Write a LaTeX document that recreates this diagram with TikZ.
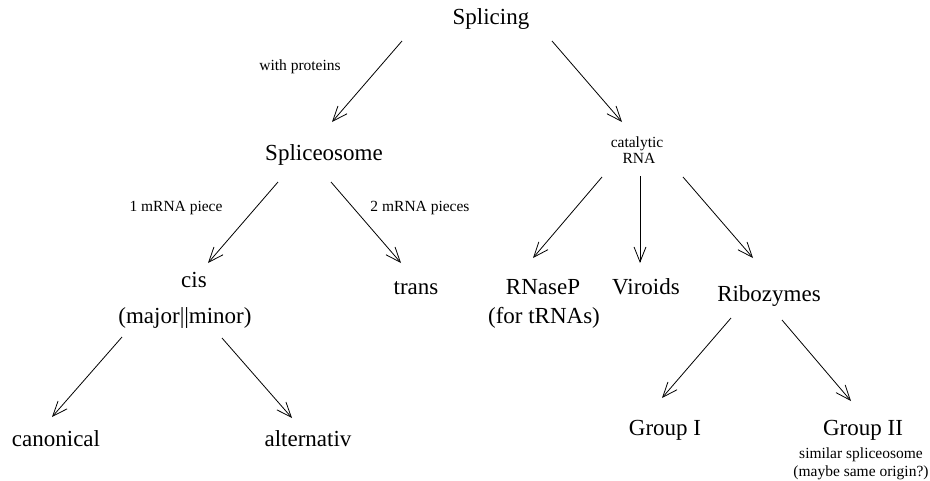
\documentclass[tikz,border=0pt]{standalone}
\usepackage{fontspec}
\setmainfont{Liberation Serif}
\usetikzlibrary{arrows.meta}

\begin{document}
\begin{tikzpicture}[x=1pt,y=-1pt,
  big/.style={anchor=base,inner sep=0pt,font=\fontsize{23}{27}\selectfont},
  small/.style={anchor=base,inner sep=0pt,font=\fontsize{15.5}{18}\selectfont},
  arr/.style={line width=0.8pt,-{Straight Barb[length=15pt,width=12pt]}}]
  \useasboundingbox (0,0) rectangle (930,480);

  % level 0: root
  \node[big] (splicing) at (491,24) {Splicing};

  % level 1: spliceosome (left) and catalytic RNA (right)
  \node[small] (withprot) at (300,70) {with proteins};
  \node[big] (spliceosome) at (324,160) {Spliceosome};
  \node[small] (catalytic) at (637,147) {catalytic};
  \node[small] (catrna) at (639,163) {RNA};

  % level 2: cis / trans
  \node[small] (onepiece) at (176,211) {1 mRNA piece};
  \node[small] (twopieces) at (420,211) {2 mRNA pieces};
  \node[big] (cis) at (194,287) {cis};
  \node[big] (cisnote) at (185,323) {(major||minor)};
  \node[big] (trans) at (416,294) {trans};

  % level 2: RNaseP, Viroids, Ribozymes
  \node[big] (rnasep) at (543,294) {RNaseP};
  \node[big] (rnasepnote) at (544,323) {(for tRNAs)};
  \node[big] (viroids) at (646,294) {Viroids};
  \node[big] (ribozymes) at (769,301) {Ribozymes};

  % level 3
  \node[big] (canonical) at (56,446) {canonical};
  \node[big] (alternativ) at (308,446) {alternativ};
  \node[big] (groupone) at (665,435) {Group I};
  \node[big] (grouptwo) at (863,435) {Group II};
  \node[small] (grouptwonote) at (861,458) {similar spliceosome};
  \node[small] (grouptwoorigin) at (861,476) {(maybe same origin?)};

  % arrow ends
  \coordinate (s-l) at (402,41);   \coordinate (sp-in) at (332,122);
  \coordinate (s-r) at (552,41);   \coordinate (ca-in) at (622,122);
  \coordinate (sp-l) at (278,182); \coordinate (cis-in) at (208,263);
  \coordinate (sp-r) at (331,182); \coordinate (tr-in) at (401,263);
  \coordinate (cis-l) at (122,337); \coordinate (can-in) at (52,417);
  \coordinate (cis-r) at (222,338); \coordinate (alt-in) at (292,418);
  \coordinate (ca-l) at (602,177); \coordinate (rn-in) at (533,258);
  \coordinate (ca-m) at (640,176); \coordinate (vi-in) at (640,263);
  \coordinate (ca-r) at (683,177); \coordinate (ri-in) at (753,258);
  \coordinate (ri-l) at (731,318); \coordinate (g1-in) at (662,398);
  \coordinate (ri-r) at (782,320); \coordinate (g2-in) at (851,401);

  \draw[arr] (s-l) -- (sp-in);
  \draw[arr] (s-r) -- (ca-in);
  \draw[arr] (sp-l) -- (cis-in);
  \draw[arr] (sp-r) -- (tr-in);
  \draw[arr] (cis-l) -- (can-in);
  \draw[arr] (cis-r) -- (alt-in);
  \draw[arr] (ca-l) -- (rn-in);
  \draw[arr] (ca-m) -- (vi-in);
  \draw[arr] (ca-r) -- (ri-in);
  \draw[arr] (ri-l) -- (g1-in);
  \draw[arr] (ri-r) -- (g2-in);
\end{tikzpicture}
\end{document}
